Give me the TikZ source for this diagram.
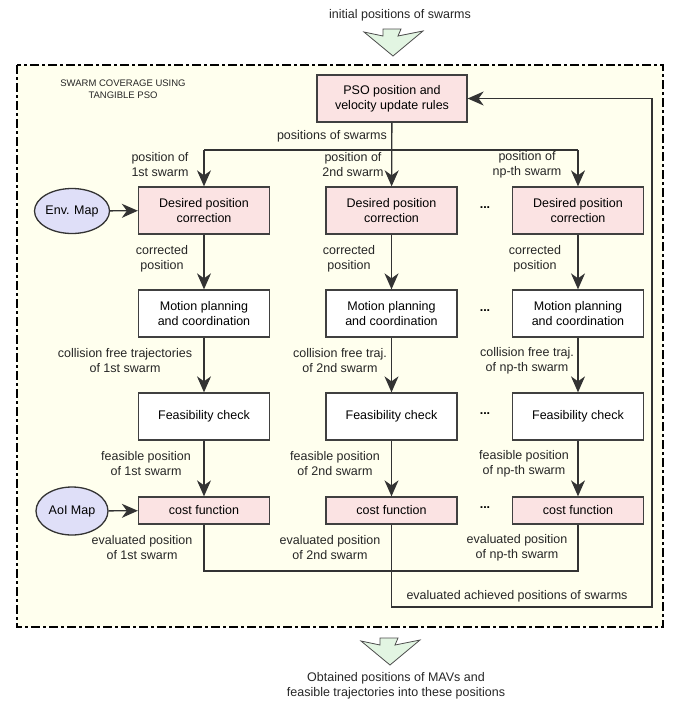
\documentclass[tikz,border=0pt]{standalone}
\usepackage{fontspec}
\setmainfont{Liberation Sans}
\usetikzlibrary{arrows.meta,shapes.geometric}
\definecolor{framefill}{HTML}{FFFFEE}
\definecolor{boxpink}{HTML}{FBE3E3}
\definecolor{mapblue}{HTML}{DFDFF8}
\definecolor{arrowgreen}{HTML}{E2F5E2}

\begin{document}
\begin{tikzpicture}[x=1pt,y=-1pt,
font=\fontsize{12.5}{15}\selectfont,
box/.style = {draw=black!75, line width=1.3pt, align=center, inner sep=0pt,
    minimum width=131pt, minimum height=47pt},
pinkbox/.style = {box, fill=boxpink},
plainbox/.style = {box, fill=white},
mapnode/.style = {ellipse, draw=black!80, line width=1.3pt, fill=mapblue, inner sep=0pt},
lbl/.style = {align=center, inner sep=0pt, text=black!85},
dots/.style = {font=\bfseries\fontsize{12.5}{15}\selectfont},
flow/.style = {draw=black!80, line width=1.3pt, -{Stealth[length=16pt,width=14pt,inset=5pt]}},
line/.style = {draw=black!80, line width=1.3pt},
bigarrow/.style = {draw=black!70, line width=0.8pt, fill=arrowgreen, line join=miter}]
\useasboundingbox (0,0) rectangle (673,702);

% frame
\draw[line width=2.5pt, dash pattern=on 9pt off 3pt on 3pt off 3pt, fill=framefill]
    (17,65) rectangle (663,627);
\node[lbl, font=\fontsize{9.5}{12}\selectfont] (title) at (123,89)
    {SWARM COVERAGE USING\\TANGIBLE PSO};

% input and output
\node[lbl] (initial) at (400,15) {initial positions of swarms};
\draw[bigarrow] (383,29) -- (383,36) -- (364,32) -- (393,56) -- (423,31)
    -- (398,36) -- (401,29) -- cycle;
\draw[bigarrow, shift={(-3,609)}] (383,29) -- (383,36) -- (364,32) -- (393,56)
    -- (423,31) -- (398,36) -- (401,29) -- cycle;
\node[lbl] (obtained) at (396,685.5)
    {Obtained positions of MAVs and\\feasible trajectories into these positions};

% PSO
\node[pinkbox, minimum width=150pt] (pso) at (392,98.5)
    {PSO position and\\velocity update rules};

% maps
\node[mapnode, minimum width=75pt, minimum height=45pt] (env) at (72,211) {Env. Map};
\node[mapnode, minimum width=72pt, minimum height=48pt] (aoi) at (72,511) {AoI Map};

% column 1
\node[pinkbox] (dpc1) at (204,210.5) {Desired position\\correction};
\node[plainbox] (mp1) at (204,313.5) {Motion planning\\and coordination};
\node[plainbox] (fc1) at (204,416.5) {Feasibility check};
\node[pinkbox, minimum height=27pt] (cf1) at (204,510.5) {cost function};

% column 2
\node[pinkbox] (dpc2) at (391.5,210.5) {Desired position\\correction};
\node[plainbox] (mp2) at (391.5,313.5) {Motion planning\\and coordination};
\node[plainbox] (fc2) at (391.5,416.5) {Feasibility check};
\node[pinkbox, minimum height=27pt] (cf2) at (391.5,510.5) {cost function};

% column 3
\node[pinkbox] (dpc3) at (578,210.5) {Desired position\\correction};
\node[plainbox] (mp3) at (578,313.5) {Motion planning\\and coordination};
\node[plainbox] (fc3) at (578,416.5) {Feasibility check};
\node[pinkbox, minimum height=27pt] (cf3) at (578,510.5) {cost function};

% dots
\node[dots] (dotsa) at (485,208) {...};
\node[dots] (dotsb) at (485,311) {...};
\node[dots] (dotsc) at (485,414) {...};
\node[dots] (dotsd) at (485,508) {...};

% labels
\node[lbl, anchor=east] (possw) at (387,136) {positions of swarms};
\node[lbl] (pos1) at (160,165) {position of\\1st swarm};
\node[lbl] (pos2) at (353,165) {position of\\2nd swarm};
\node[lbl] (pos3) at (527,165) {position of\\np-th swarm};
\node[lbl] (cor1) at (162,258.5) {corrected\\position};
\node[lbl] (cor2) at (349,258.5) {corrected\\position};
\node[lbl] (cor3) at (535,258.5) {corrected\\position};
\node[lbl] (col1) at (125,360.5) {collision free trajectories\\of 1st swarm};
\node[lbl] (col2) at (340,360.5) {collision free traj.\\of 2nd swarm};
\node[lbl] (col3) at (527,360.5) {collision free traj.\\of np-th swarm};
\node[lbl] (fea1) at (146,463.5) {feasible position\\of 1st swarm};
\node[lbl] (fea2) at (335,463.5) {feasible position\\of 2nd swarm};
\node[lbl] (fea3) at (524,463.5) {feasible position\\of np-th swarm};
\node[lbl] (eva1) at (142,547.5) {evaluated position\\of 1st swarm};
\node[lbl] (eva2) at (330,547.5) {evaluated position\\of 2nd swarm};
\node[lbl] (eva3) at (517,547.5) {evaluated position\\of np-th swarm};
\node[lbl] (achieved) at (517,596) {evaluated achieved positions of swarms};

% connectors
\coordinate (bar1) at (204,150);
\coordinate (bar3) at (578,150);
\coordinate (low3) at (578,571);
\coordinate (back) at (652,607);
\draw[flow] (pso) -- (dpc2);
\draw[line] (bar1) -- (bar3);
\draw[flow] (bar1) -- (dpc1);
\draw[flow] (bar3) -- (dpc3);
\draw[flow] (env) -- (dpc1);
\draw[flow] (aoi) -- (cf1);
\draw[flow] (dpc1) -- (mp1);
\draw[flow] (mp1) -- (fc1);
\draw[flow] (fc1) -- (cf1);
\draw[flow] (dpc2) -- (mp2);
\draw[flow] (mp2) -- (fc2);
\draw[flow] (fc2) -- (cf2);
\draw[flow] (dpc3) -- (mp3);
\draw[flow] (mp3) -- (fc3);
\draw[flow] (fc3) -- (cf3);
\draw[line] (cf1) |- (low3) -- (cf3);
\draw[flow] (cf2) |- (back) |- (pso);
\end{tikzpicture}
\end{document}
